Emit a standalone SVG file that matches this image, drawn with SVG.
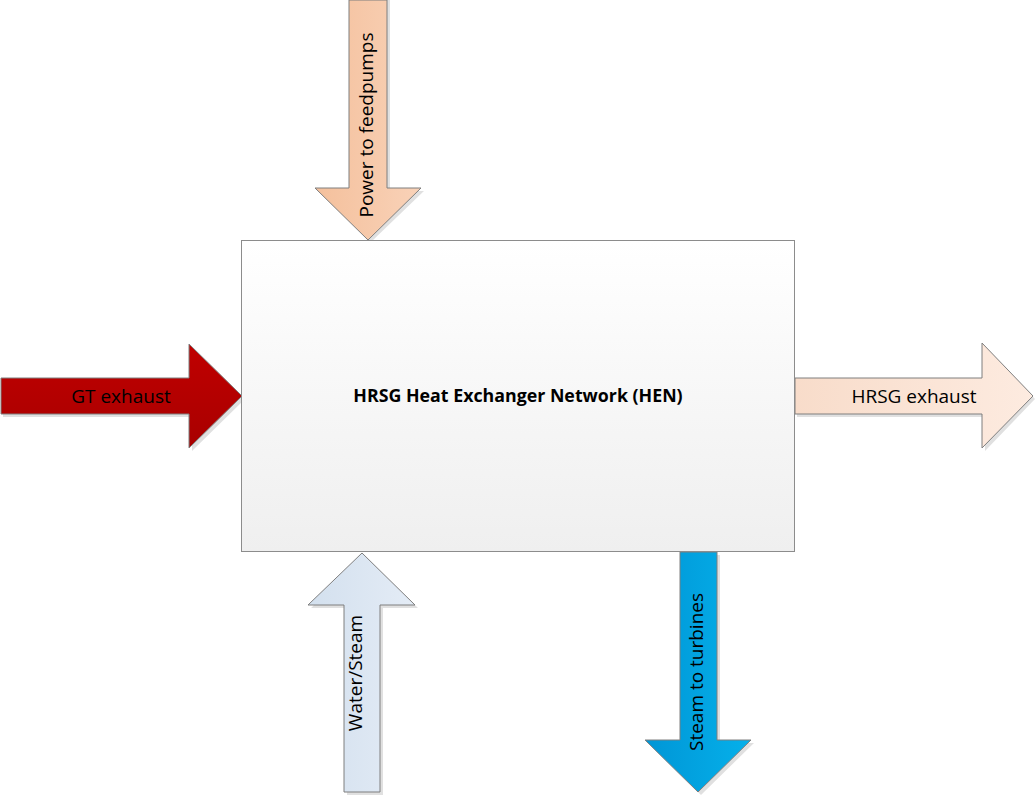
<svg xmlns="http://www.w3.org/2000/svg" width="1035" height="795" viewBox="0 0 1035 795">
<defs>
<linearGradient id="gBox" x1="0" y1="0" x2="0" y2="1"><stop offset="0" stop-color="#ffffff"/><stop offset="1" stop-color="#efefef"/></linearGradient>
<linearGradient id="gRed" x1="0" y1="0" x2="0" y2="1"><stop offset="0" stop-color="#c00000"/><stop offset="1" stop-color="#a80000"/></linearGradient>
<linearGradient id="gPeach" x1="0" y1="0" x2="1" y2="0"><stop offset="0" stop-color="#f4c09c"/><stop offset="1" stop-color="#f9d2b8"/></linearGradient>
<linearGradient id="gLight" x1="0" y1="0" x2="1" y2="0"><stop offset="0" stop-color="#f8dcca"/><stop offset="1" stop-color="#fdebe0"/></linearGradient>
<linearGradient id="gIce" x1="0" y1="0" x2="1" y2="0"><stop offset="0" stop-color="#d3e0ee"/><stop offset="1" stop-color="#e4ecf6"/></linearGradient>
<linearGradient id="gBlue" x1="0" y1="0" x2="1" y2="0"><stop offset="0" stop-color="#0096d6"/><stop offset="1" stop-color="#05b0ea"/></linearGradient>
</defs>
<style>
.sh{fill:#000;opacity:0.12}
.ar{stroke:#7f7f7f;stroke-width:1}
.lb{font-family:"Open Sans","Noto Sans",sans-serif;font-size:19px;fill:#000;text-anchor:middle}
.tt{font-family:"Open Sans","Noto Sans",sans-serif;font-size:17.8px;font-weight:bold;fill:#000;text-anchor:middle}
</style>
<g id="connectors">
<g id="gt-exhaust">
<polygon class="sh" points="3,381 192,381 192,347 245,399 192,451 192,417 3,417"/>
<polygon class="ar" fill="url(#gRed)" points="1,378 189,378 189,344 242,396 189,448 189,414 1,414"/>
<text class="lb" x="121" y="403">GT exhaust</text>
</g>
<g id="hrsg-exhaust">
<polygon class="sh" points="797,381 985,381 985,346 1035,399 985,451 985,417 797,417"/>
<polygon class="ar" fill="url(#gLight)" points="795,378 982,378 982,343 1033,396 982,448 982,414 795,414"/>
<text class="lb" x="914" y="403">HRSG exhaust</text>
</g>
<g id="power-feedpumps">
<polygon class="sh" points="352,0 390,0 390,191 424,191 371,242 318,191 352,191"/>
<polygon class="ar" fill="url(#gPeach)" points="349,0 387,0 387,188 421,188 368,240 315,188 349,188"/>
<text class="lb" transform="translate(373,125) rotate(-90)">Power to feedpumps</text>
</g>
<g id="water-steam">
<polygon class="sh" points="365,556 418,608 383,608 383,795 347,795 347,608 311,608"/>
<polygon class="ar" fill="url(#gIce)" points="362,553 415,605 380,605 380,792 344,792 344,605 308,605"/>
<text class="lb" transform="translate(362,673) rotate(-90)">Water/Steam</text>
</g>
<g id="steam-turbines">
<polygon class="sh" points="683,555 720,555 720,743 754,743 701,795 648,743 683,743"/>
<polygon class="ar" fill="url(#gBlue)" points="680,552 717,552 717,740 751,740 698,792 645,740 680,740"/>
<text class="lb" transform="translate(703,672) rotate(-90)">Steam to turbines</text>
</g>
</g>
<g id="hen">
<rect x="241.5" y="240.5" width="553" height="311" fill="url(#gBox)" stroke="#8c8c8c" stroke-width="1"/>
<text class="tt" x="518" y="402">HRSG Heat Exchanger Network (HEN)</text>
</g>
</svg>
